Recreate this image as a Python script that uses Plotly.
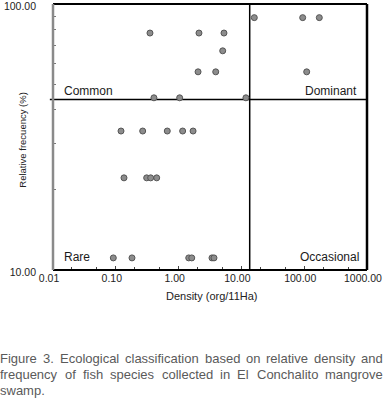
import plotly.graph_objects as go

# ---- data ----
density = [16.05, 94.6, 174.0,
           0.350, 2.11, 5.28,
           5.04,
           2.04, 3.90, 109.6,
           0.405, 1.04, 11.8,
           0.121, 0.268, 0.66, 1.16, 1.70,
           0.135, 0.310, 0.359, 0.448,
           0.0912, 0.181, 1.45, 1.62, 3.40, 3.66]
frequency = [88.9, 88.9, 88.9,
             77.8, 77.8, 77.8,
             66.7,
             55.6, 55.6, 55.6,
             44.4, 44.4, 44.4,
             33.3, 33.3, 33.3, 33.3, 33.3,
             22.2, 22.2, 22.2, 22.2,
             11.1, 11.1, 11.1, 11.1, 11.1, 11.1]
density_cut = 13.56
frequency_cut = 43.8
x_tickvals = [0.01, 0.1, 1, 10, 100, 1000]
x_ticktext = ["0.01", "0.10", "1.00", "10.00", "100.00", "1000.00"]
x_minor = [0.02, 0.05, 0.2, 0.5, 2, 5, 20, 50, 200, 500]
y_tickvals = [10, 100]
y_ticktext = ["10.00", "100.00"]
y_minor = [20, 30, 40, 50, 60, 70, 80, 90]
x_title = "Density (org/11Ha)"
y_title = "Relative frecuency (%)"
quadrant_labels = ["Common", "Dominant", "Rare", "Occasional"]
caption_lines = [
    ["Figure", "3.", "Ecological", "classification", "based", "on", "relative", "density", "and"],
    ["frequency", "of", "fish", "species", "collected", "in", "El", "Conchalito", "mangrove"],
    ["swamp."],
]

# ---- layout geometry (pixels) ----
W, H = 384, 402
L, R, T, B = 53, 367, 4, 270


def px(xp):
    return (xp - L) / (R - L)


def py(yp):
    return (B - yp) / (B - T)


# approximate Arial/Liberation Sans advance widths (per 1000 em) for justifying the caption
AW = dict(a=556, b=556, c=500, d=556, e=556, f=278, g=556, h=556, i=222, j=222, k=500,
          l=222, m=833, n=556, o=556, p=556, q=556, r=333, s=500, t=278, u=556, v=500,
          w=722, x=500, y=500, z=500)
AW.update({"F": 611, "E": 667, "C": 722, "3": 556, ".": 278})


def text_w(s, size):
    return sum(AW.get(ch, 556) for ch in s) * size / 1000.0


FONT = "Liberation Sans, Arial, sans-serif"
CAPFONT = "Liberation Sans, Arial, sans-serif"
CAPSIZE = 13

fig = go.Figure()
fig.add_trace(go.Scatter(
    x=density, y=frequency, mode="markers",
    marker=dict(size=6, color="#8c8c8c", line=dict(color="#555555", width=1)),
    cliponaxis=False, showlegend=False, hoverinfo="skip"))

fig.update_layout(
    width=W, height=H,
    margin=dict(l=L, r=W - R, t=T, b=H - B, autoexpand=False),
    paper_bgcolor="white", plot_bgcolor="white",
    font=dict(family=FONT, color="#222222"),
    xaxis=dict(type="log", range=[-2.0002, 3.0002], showgrid=False, zeroline=False,
               automargin=False, ticklabeloverflow="allow", ticklabelshift=-4,
               tickvals=x_tickvals, ticktext=x_ticktext, ticks="inside", ticklen=4,
               tickcolor="#444", tickfont=dict(size=10.5, color="#222"),
               minor=dict(tickvals=x_minor, ticks="inside", ticklen=3, tickcolor="#444"),
               showline=False),
    yaxis=dict(type="log", range=[0.9998, 2.0002], showgrid=False, zeroline=False,
               automargin=False, ticklabeloverflow="allow", ticklabelshift=2,
               tickvals=y_tickvals, ticktext=y_ticktext, ticks="inside", ticklen=4,
               tickcolor="#777", tickfont=dict(size=10.5, color="#222"), ticklabelstandoff=16,
               minor=dict(tickvals=y_minor, ticks="inside", ticklen=3, tickcolor="#777"),
               showline=False),
)

# axis titles
fig.add_annotation(text=x_title, xref="paper", yref="paper", x=px(211.7), y=py(295.5),
                   xanchor="center", yanchor="middle", showarrow=False,
                   font=dict(size=11, color="#222", family=FONT))
fig.add_annotation(text=y_title, xref="paper", yref="paper", x=px(21.7), y=py(140),
                   xanchor="center", yanchor="middle", showarrow=False, textangle=-90,
                   font=dict(size=9.5, color="#222", family=FONT))

# frame
fig.add_shape(type="line", xref="paper", yref="paper", x0=0, x1=1, y0=1, y1=1,
              line=dict(color="black", width=2))
fig.add_shape(type="line", xref="paper", yref="paper", x0=0, x1=1, y0=0, y1=0,
              line=dict(color="black", width=2))
fig.add_shape(type="line", xref="paper", yref="paper", x0=1, x1=1, y0=0, y1=1,
              line=dict(color="black", width=2.5))
fig.add_shape(type="line", xref="paper", yref="paper", x0=0, x1=0, y0=0, y1=1,
              line=dict(color="#8a8a8a", width=2.5))
# dividing lines
fig.add_shape(type="line", xref="x", yref="paper", x0=density_cut, x1=density_cut, y0=0, y1=1,
              line=dict(color="black", width=1.5), layer="below")
fig.add_shape(type="line", xref="paper", yref="y", x0=-0.01, x1=1, y0=frequency_cut, y1=frequency_cut,
              line=dict(color="black", width=1.5), layer="below")

# quadrant labels
qpos = [(62, 90.5, "left"), (359, 90.5, "right"), (62, 256.5, "left"), (361, 256.5, "right")]
for lab, (xx, yy, anc) in zip(quadrant_labels, qpos):
    fig.add_annotation(text=lab, xref="paper", yref="paper", x=px(xx), y=py(yy),
                       xanchor=anc, yanchor="middle", showarrow=False,
                       font=dict(size=12, color="#1a1a1a", family=FONT))

# caption, justified word by word (last line left aligned)
x_left, x_right = 0.5, 383.0
line_y = [358, 374.5, 390]
for li, (words, yy) in enumerate(zip(caption_lines, line_y)):
    widths = [text_w(w, CAPSIZE) for w in words]
    justify = li < len(caption_lines) - 1 and len(words) > 1
    gap = ((x_right - x_left) - sum(widths)) / (len(words) - 1) if justify else CAPSIZE * 0.278
    cur = x_left
    for w, ww in zip(words, widths):
        fig.add_annotation(text=w, xref="paper", yref="paper", x=px(cur + ww / 2), y=py(yy),
                           xanchor="center", yanchor="middle",
                           showarrow=False, borderpad=0,
                           font=dict(size=CAPSIZE, color="#5a5a5a", family=CAPFONT))
        cur += ww + gap

fig.write_html("out.html", config={"displayModeBar": False},
               post_script="document.body.style.margin='0';document.body.style.padding='0';")
